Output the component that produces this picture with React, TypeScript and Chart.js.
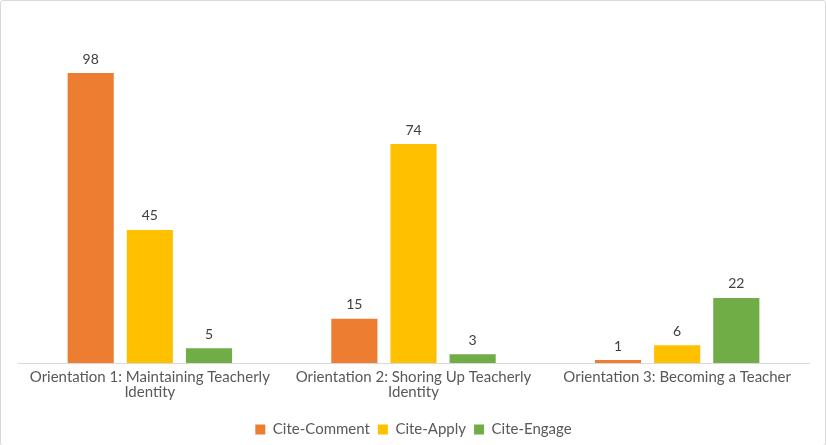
import { useEffect, useRef } from "react"
import { Chart, registerables, Plugin } from "chart.js"

Chart.register(...registerables)

const categories = [
  ["Orientation 1: Maintaining Teacherly", "Identity"],
  ["Orientation 2: Shoring Up Teacherly", "Identity"],
  ["Orientation 3: Becoming a Teacher"],
]
const citeComment = [98, 15, 1]
const citeApply = [45, 74, 6]
const citeEngage = [5, 3, 22]

const FONT = "Lato, 'Open Sans', sans-serif"

// draws the value above each bar
const valueLabels: Plugin = {
  id: "valueLabels",
  afterDatasetsDraw(chart) {
    const ctx = chart.ctx
    ctx.save()
    ctx.font = `14px ${FONT}`
    ctx.fillStyle = "#404040"
    ctx.textAlign = "center"
    ctx.textBaseline = "middle"
    chart.data.datasets.forEach((ds, i) => {
      const meta = chart.getDatasetMeta(i)
      meta.data.forEach((bar, j) => {
        ctx.fillText(String(ds.data[j]), bar.x, bar.y - 14)
      })
    })
    ctx.restore()
  },
}

export default function App() {
  const chartRef = useRef<HTMLCanvasElement>(null)
  const chartInstance = useRef<Chart | null>(null)

  useEffect(() => {
    if (!chartRef.current) return
    if (chartInstance.current) chartInstance.current.destroy()

    const ctx = chartRef.current.getContext("2d")
    if (!ctx) return

    chartInstance.current = new Chart(ctx, {
      type: "bar",
      data: {
        labels: categories,
        datasets: [
          { label: "Cite-Comment", data: citeComment, backgroundColor: "#ED7D31" },
          { label: "Cite-Apply", data: citeApply, backgroundColor: "#FFC000" },
          { label: "Cite-Engage", data: citeEngage, backgroundColor: "#70AD47" },
        ],
      },
      options: {
        responsive: true,
        maintainAspectRatio: false,
        animation: false,
        layout: { padding: { top: 7, left: 17, right: 16, bottom: -2 } },
        datasets: {
          bar: { categoryPercentage: 0.673, barPercentage: 0.78 },
        },
        scales: {
          x: {
            grid: { display: false, tickLength: 0 },
            border: { display: true, color: "#D9D9D9", width: 1 },
            ticks: {
              color: "#595959",
              font: { family: FONT, size: 15, lineHeight: 1.0 },
              padding: 7,
              maxRotation: 0,
              autoSkip: false,
            },
            // fixed height so the plot area ends where the reference does
            afterFit: (scale) => {
              scale.height = 51
            },
          },
          y: {
            display: false,
            min: 0,
            max: 120,
          },
        },
        plugins: {
          legend: {
            position: "bottom",
            labels: {
              color: "#595959",
              font: { family: FONT, size: 15, lineHeight: 1.0 },
              boxWidth: 10,
              boxHeight: 10,
              padding: 8,
            },
          },
          tooltip: { enabled: false },
        },
      },
      plugins: [valueLabels],
    })

    return () => {
      if (chartInstance.current) {
        chartInstance.current.destroy()
        chartInstance.current = null
      }
    }
  }, [])

  return (
    <div
      style={{
        position: "absolute",
        top: 0,
        left: 0,
        width: 824,
        height: 444,
        border: "1px solid #D9D9D9",
        borderRadius: 3,
        background: "#fff",
      }}
    >
      <canvas ref={chartRef} />
    </div>
  )
}
